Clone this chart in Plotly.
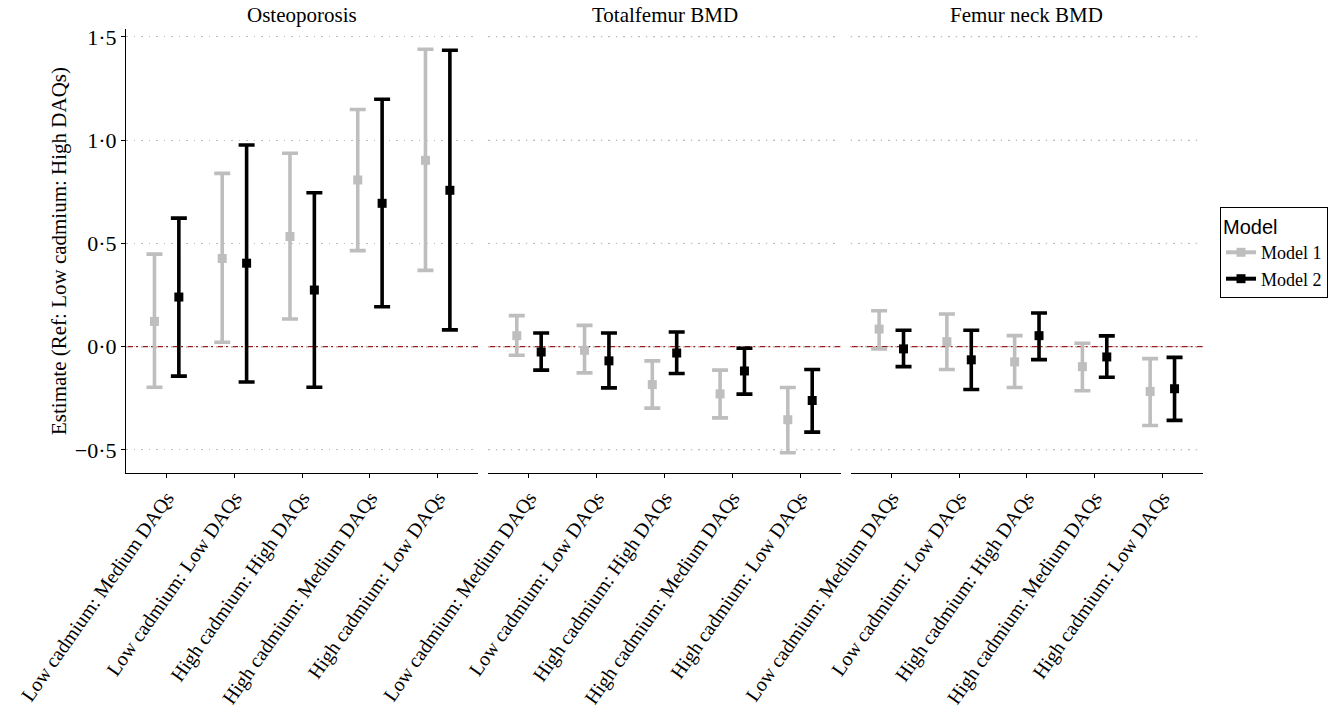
import numpy as np
import plotly.graph_objects as go

# ---------------- data ----------------
categories = [
    "Low cadmium: Medium DAQs",
    "Low cadmium: Low DAQs",
    "High cadmium: High DAQs",
    "High cadmium: Medium DAQs",
    "High cadmium: Low DAQs",
]
panels = ["Osteoporosis", "Totalfemur BMD", "Femur neck BMD"]
models = ["Model 1", "Model 2"]

# Osteoporosis
osteo_m1_est = [0.122, 0.427, 0.533, 0.807, 0.902]
osteo_m1_lo = [-0.197, 0.021, 0.134, 0.465, 0.369]
osteo_m1_hi = [0.448, 0.839, 0.936, 1.148, 1.440]
osteo_m2_est = [0.240, 0.404, 0.274, 0.694, 0.757]
osteo_m2_lo = [-0.143, -0.171, -0.197, 0.193, 0.081]
osteo_m2_hi = [0.622, 0.976, 0.745, 1.198, 1.435]

# Totalfemur BMD
tf_m1_est = [0.053, -0.018, -0.184, -0.229, -0.354]
tf_m1_lo = [-0.042, -0.127, -0.298, -0.345, -0.514]
tf_m1_hi = [0.150, 0.103, -0.069, -0.114, -0.198]
tf_m2_est = [-0.026, -0.069, -0.031, -0.118, -0.261]
tf_m2_lo = [-0.114, -0.200, -0.130, -0.230, -0.414]
tf_m2_hi = [0.066, 0.066, 0.071, -0.008, -0.111]

# Femur neck BMD
fn_m1_est = [0.085, 0.024, -0.074, -0.097, -0.217]
fn_m1_lo = [-0.011, -0.111, -0.198, -0.214, -0.382]
fn_m1_hi = [0.174, 0.158, 0.053, 0.016, -0.058]
fn_m2_est = [-0.011, -0.064, 0.053, -0.050, -0.204]
fn_m2_lo = [-0.097, -0.208, -0.063, -0.148, -0.357]
fn_m2_hi = [0.079, 0.079, 0.163, 0.052, -0.052]

ytick_vals = [-0.5, 0.0, 0.5, 1.0, 1.5]
ytick_text = ["\u22120\u00b75", "0\u00b70", "0\u00b75", "1\u00b70", "1\u00b75"]

# ---------------- style ----------------
SERIF = "Liberation Serif"
SANS = "Liberation Sans"
colors = {"Model 1": "#BEBEBE", "Model 2": "#000000"}
dodge = {"Model 1": -0.18, "Model 2": 0.18}
GRID = "#BDBDBD"
GRID_DASH = "1.5px,6px"

panel_data = [
    [(osteo_m1_est, osteo_m1_lo, osteo_m1_hi), (osteo_m2_est, osteo_m2_lo, osteo_m2_hi)],
    [(tf_m1_est, tf_m1_lo, tf_m1_hi), (tf_m2_est, tf_m2_lo, tf_m2_hi)],
    [(fn_m1_est, fn_m1_lo, fn_m1_hi), (fn_m2_est, fn_m2_lo, fn_m2_hi)],
]

W, H = 1343, 717
ml, mr, mt, mb = 126, 140, 28.6, 244.4
pw = W - ml - mr
ph = H - mt - mb
gap = 10 / pw
wp = (1 - 2 * gap) / 3
domains = [[i * (wp + gap), i * (wp + gap) + wp] for i in range(3)]

fig = go.Figure()
idx = np.arange(len(categories))

for p in range(3):
    xa = "x" if p == 0 else f"x{p+1}"
    for m, model in enumerate(models):
        est, lo, hi = panel_data[p][m]
        est = np.array(est)
        fig.add_trace(go.Scatter(
            x=idx + dodge[model], y=est,
            mode="markers",
            marker=dict(symbol="square", size=9, color=colors[model]),
            error_y=dict(type="data", symmetric=False,
                         array=np.array(hi) - est,
                         arrayminus=est - np.array(lo),
                         color=colors[model], thickness=3.6, width=8),
            xaxis=xa, yaxis="y",
            showlegend=False, name=model, cliponaxis=False,
        ))

# legend entries
for model in models:
    fig.add_trace(go.Scatter(
        x=[None], y=[None], mode="lines+markers", name=model,
        line=dict(color=colors[model], width=4),
        marker=dict(symbol="square", size=9, color=colors[model]),
        xaxis="x", yaxis="y", showlegend=True,
    ))

axis_common = dict(
    range=[-0.6, 4.6], tickvals=list(idx), ticktext=categories,
    tickangle=-55, showgrid=False, zeroline=False, automargin=False,
    showline=True, linecolor="black", linewidth=1.2,
    ticks="outside", ticklen=4, tickcolor="black", tickwidth=1.2,
    tickfont=dict(family=SERIF, size=20, color="black"),
    anchor="y",
)
layout = dict(
    width=W, height=H,
    margin=dict(l=ml, r=mr, t=mt, b=mb, autoexpand=False),
    paper_bgcolor="white", plot_bgcolor="white",
    showlegend=True,
    legend=dict(
        x=(1220 - ml) / pw, y=1 - (206.7 - mt) / ph,
        xanchor="left", yanchor="top",
        bordercolor="black", borderwidth=1, bgcolor="white",
        font=dict(family=SERIF, size=18, color="black"),
        title=dict(text="Model", font=dict(family=SANS, size=20, color="black")),
        itemwidth=30, tracegroupgap=0,
    ),
    yaxis=dict(
        range=[-0.612, 1.538], tickvals=ytick_vals, ticktext=ytick_text,
        showgrid=True, gridcolor=GRID, griddash=GRID_DASH, gridwidth=1,
        zeroline=False, showline=True, linecolor="black", linewidth=1.2,
        ticks="outside", ticklen=4, tickcolor="black", tickwidth=1.2,
        automargin=False,
        tickfont=dict(family=SERIF, size=22, color="black"),
        title=dict(text="Estimate (Ref: Low cadmium: High DAQs)",
                   font=dict(family=SERIF, size=21, color="black"), standoff=2),
        domain=[0, 1],
    ),
)
for p in range(3):
    key = "xaxis" if p == 0 else f"xaxis{p+1}"
    layout[key] = dict(axis_common, domain=domains[p])
fig.update_layout(**layout)

for p in range(3):
    xr = "x domain" if p == 0 else f"x{p+1} domain"
    if p > 0:
        for yv in ytick_vals:
            fig.add_shape(type="line", xref=xr, yref="y", x0=0, x1=1, y0=yv, y1=yv,
                          line=dict(color=GRID, width=1, dash=GRID_DASH), layer="below")
    fig.add_shape(type="line", xref=xr, yref="y", x0=0, x1=1, y0=0, y1=0,
                  line=dict(color="#9B1C1C", width=1.3, dash="7px,3px,2px,3px"),
                  layer="below")
    fig.add_annotation(text=panels[p], xref=xr, yref="paper",
                       x=0.5, y=1 + (mt - 15) / ph,
                       yanchor="middle", showarrow=False,
                       font=dict(family=SERIF, size=21, color="black"))

fig.write_html("out.html", config={"displayModeBar": False},
               post_script="document.body.style.margin='0';")
